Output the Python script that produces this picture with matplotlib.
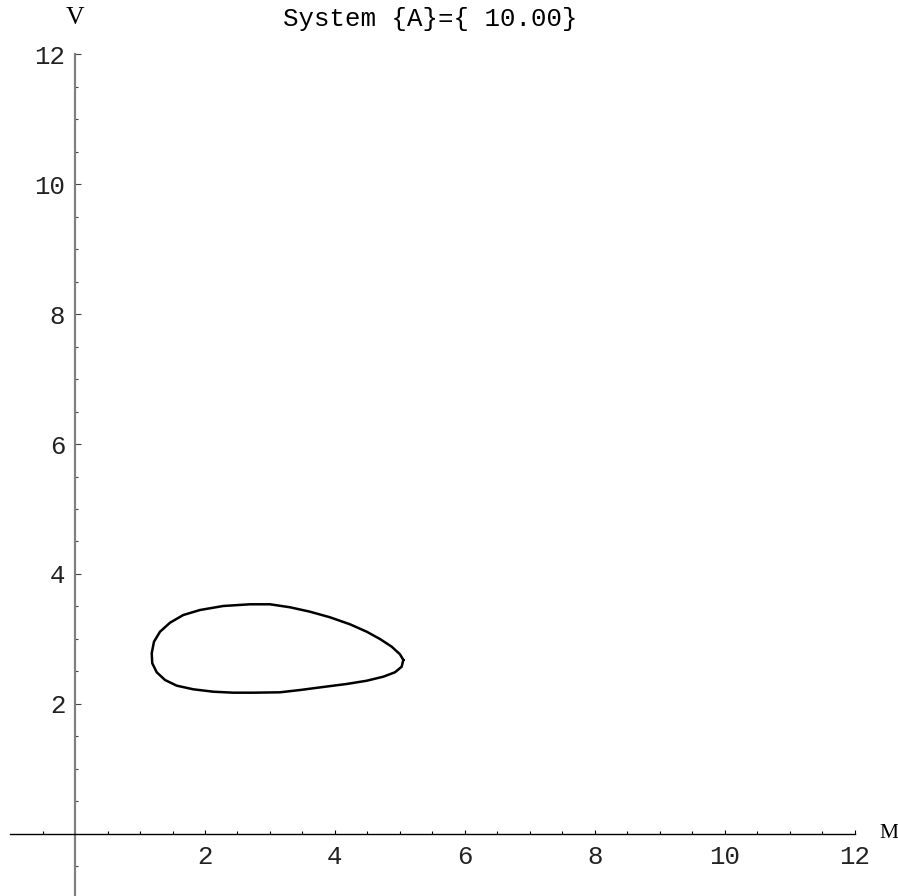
import matplotlib
matplotlib.use("Agg")
import matplotlib.pyplot as plt
from matplotlib.ticker import FixedLocator

# loop of the trajectory (M, V)
m_vals = [5.051, 5.000, 4.872, 4.692, 4.488, 4.231, 3.923, 3.615, 3.308, 3.000,
          2.692, 2.282, 1.923, 1.666, 1.462, 1.308, 1.215, 1.180, 1.189, 1.257,
          1.385, 1.565, 1.820, 2.128, 2.435, 2.743, 3.154, 3.462, 3.820, 4.180,
          4.488, 4.743, 4.923, 5.026, 5.051]
v_vals = [2.677, 2.765, 2.882, 3.000, 3.112, 3.226, 3.334, 3.420, 3.488, 3.534,
          3.534, 3.508, 3.446, 3.369, 3.251, 3.112, 2.958, 2.780, 2.626, 2.488,
          2.369, 2.282, 2.226, 2.189, 2.174, 2.174, 2.180, 2.215, 2.262, 2.308,
          2.358, 2.420, 2.488, 2.574, 2.677]

major_ticks = [2, 4, 6, 8, 10, 12]
x_minor = [-0.5, 0.5, 1, 1.5, 2.5, 3, 3.5, 4.5, 5, 5.5, 6.5, 7, 7.5,
           8.5, 9, 9.5, 10.5, 11, 11.5]
y_minor = [-0.5] + x_minor[1:]

title = "System {A}={ 10.00}"

fig = plt.figure(figsize=(8.98, 8.96), dpi=100)
ax = fig.add_axes([0, 0, 1, 1])
ax.set_facecolor("white")

ax.plot(m_vals, v_vals, color="black", lw=1.8, solid_joinstyle="round")

ax.set_xlim(-1.154, 12.662)
ax.set_ylim(-0.954, 12.831)

for s in ["top", "right"]:
    ax.spines[s].set_visible(False)
ax.spines["left"].set_position(("data", 0))
ax.spines["bottom"].set_position(("data", 0))
ax.spines["left"].set_bounds(-0.954, 12)
ax.spines["bottom"].set_bounds(-1.0, 12)
ax.spines["left"].set_color("#808080")
ax.spines["left"].set_linewidth(1.6)
ax.spines["bottom"].set_color("black")
ax.spines["bottom"].set_linewidth(1.0)

ax.xaxis.set_major_locator(FixedLocator(major_ticks))
ax.yaxis.set_major_locator(FixedLocator(major_ticks))
ax.xaxis.set_minor_locator(FixedLocator(x_minor))
ax.yaxis.set_minor_locator(FixedLocator(y_minor))

ax.tick_params(axis="x", which="major", direction="in", length=3.2, width=0.8,
               pad=8, labelsize=18.5)
ax.tick_params(axis="x", which="minor", direction="in", length=2.3, width=0.8)
ax.tick_params(axis="y", which="major", direction="in", length=4.2, width=0.8,
               pad=7, labelsize=18.5, color="#444444")
ax.tick_params(axis="y", which="minor", direction="in", length=2.3, width=0.8,
               color="#444444")
for lab in ax.get_xticklabels() + ax.get_yticklabels():
    lab.set_family("Liberation Mono")
    lab.set_color("#222222")

ax.text(0, 12.56, "V", ha="center", va="center", fontsize=18.5,
        family="Liberation Serif")
ax.text(12.38, 0.0, "M", ha="left", va="center", fontsize=15.5,
        family="Liberation Serif")
ax.text(5.46, 12.54, title, ha="center", va="center", fontsize=18.5,
        family="Liberation Mono")

fig.savefig("out.png", dpi=100, facecolor="white")
